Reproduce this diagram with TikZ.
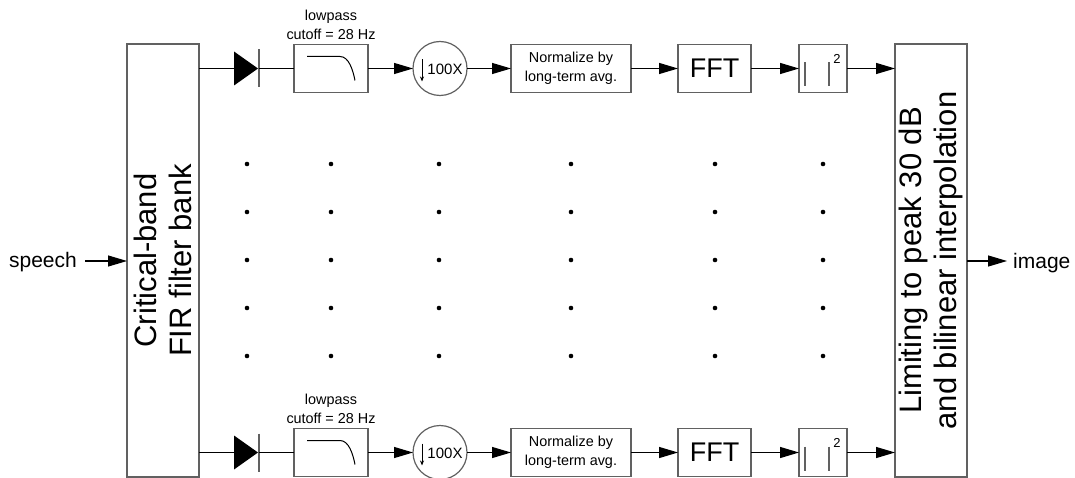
\documentclass[tikz,border=0pt]{standalone}
\usepackage{fontspec}
\setmainfont{Liberation Sans}
\usetikzlibrary{arrows.meta}
\begin{document}
\begin{tikzpicture}[x=1pt,y=-1pt,
  bord/.style={draw=black!62,line width=1.4pt},
  blk/.style={bord,inner sep=0pt,outer sep=0pt,minimum height=48pt},
  tall/.style={bord,inner sep=0pt,outer sep=0pt,minimum width=72pt,minimum height=433pt},
  conn/.style={line width=1.2pt,draw=black},
  arr/.style={conn,-{Triangle[length=19pt,width=11pt]}},
  small/.style={font=\fontsize{14.4}{18.5}\selectfont,align=center,inner sep=0pt},
  big/.style={font=\fontsize{31}{35}\selectfont,align=center,inner sep=0pt,rotate=90},
  mid/.style={font=\fontsize{21}{25}\selectfont,inner sep=0pt},
  ring/.style={circle,bord,line width=1.2pt,minimum size=54pt,inner sep=0pt,outer sep=0pt}
]
\useasboundingbox (0,0) rectangle (1075,478);
\node[tall] (fir) at (163,260.5) {};
\node[big] (firtxt) at (fir.center) {Critical-band\\FIR filter bank};
\node[tall] (out) at (931,260.5) {};
\node[big] (outtxt) at (out.center) {Limiting to peak 30 dB\\and bilinear interpolation};
\node[mid,anchor=base east] (sp) at (77,267) {speech};
\coordinate (spa) at (85,261);
\draw[arr] (spa) -- (spa -| fir.west);
\node[mid,anchor=base west] (img) at (1013,268) {image};
\coordinate (imt) at (1007,261);
\draw[arr] (imt -| out.east) -- (imt);

\foreach \r/\y in {a/68.5,b/452.5}{
  \coordinate (db\r) at (234,\y);
  \coordinate (dbar\r) at (259,\y);
  \fill (234,\y-17) -- (258,\y) -- (234,\y+17) -- cycle;
  \draw[bord,line width=1.2pt] (259,\y-19) -- (259,\y+19);
  \draw[conn] (db\r -| fir.east) -- (db\r);
  \node[blk,minimum width=74pt] (lp\r) at (331,\y) {};
  \draw[conn] (dbar\r) -- (lp\r.west);
  \draw[line width=1pt] (307,\y-12) -- (340,\y-12) .. controls (349,\y-12) and (353,\y+2) .. (355,\y+12);
  \node[small,anchor=south] (lbl\r) at ([yshift=5pt]lp\r.north) {lowpass\\cutoff = 28 Hz};
  \node[ring] (dn\r) at (440,\y) {};
  \draw[line width=0.8pt,-{Stealth[length=5pt,width=4pt]}] (422,\y-9) -- (422,\y+13);
  \node[font=\fontsize{15}{18}\selectfont,inner sep=0pt] (dnt\r) at (445,\y+1) {100X};
  \draw[arr] (lp\r.east) -- (dn\r.west);
  \node[blk,small,minimum width=120pt,minimum height=48pt] (nm\r) at (571,\y) {Normalize by\\long-term avg.};
  \draw[arr] (dn\r.east) -- (nm\r.west);
  \node[blk,minimum width=73pt,font=\fontsize{27}{30}\selectfont] (fft\r) at (714.5,\y) {FFT};
  \draw[arr] (nm\r.east) -- (fft\r.west);
  \node[blk,minimum width=48pt] (sq\r) at (823,\y) {};
  \draw[bord,line width=1.2pt] (805,\y-6) -- (805,\y+18) (829,\y-6) -- (829,\y+18);
  \node[font=\fontsize{13}{15}\selectfont,inner sep=0pt] (sqt\r) at (837,\y-10) {2};
  \draw[arr] (fft\r.east) -- (sq\r.west);
  \draw[arr] (sq\r.east) -- (sq\r.east -| out.west);
}
\foreach \x in {247,331,439,571,715,823}
  \foreach \yy in {164,212,260,308,356}
    \fill (\x,\yy) circle (2.3);
\end{tikzpicture}
\end{document}
